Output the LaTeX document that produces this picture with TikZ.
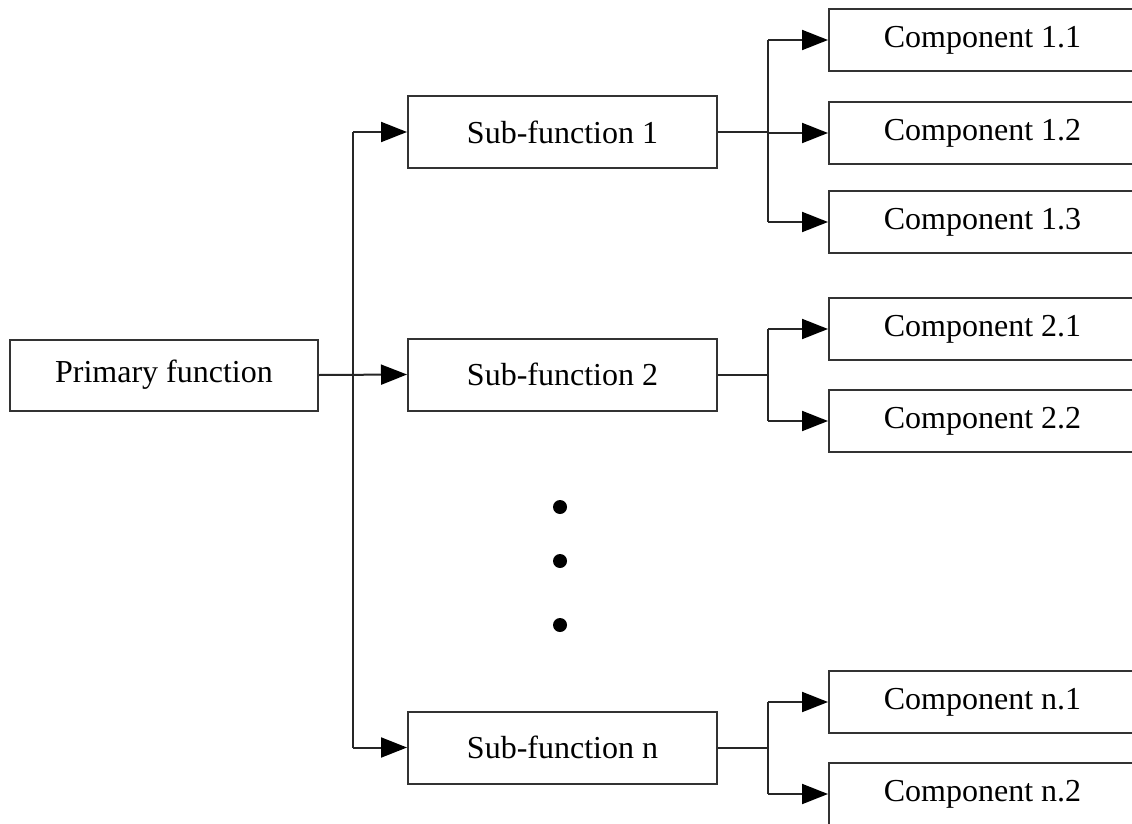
\documentclass[tikz,border=0pt]{standalone}
\usepackage{fontspec}
\setmainfont{Liberation Serif}
\usetikzlibrary{arrows.meta}
\begin{document}
\begin{tikzpicture}[x=1pt,y=-1pt,
  box/.style={draw=black!80, line width=2pt, inner sep=0pt, font=\fontsize{32}{38}\selectfont},
  subbox/.style={box, minimum width=309pt, minimum height=72pt},
  compbox/.style={box, minimum width=307pt, minimum height=62pt},
  conn/.style={draw=black!85, line width=2pt},
  arr/.style={conn, -{Triangle[length=26pt,width=20pt,color=black]}}
]
\useasboundingbox (0,0) rectangle (1132,824);
\clip (0,0) rectangle (1132,824);
\fill[white] (0,0) rectangle (1132,824);

\node[box, minimum width=308pt, minimum height=71pt] (P) at (164,375) {Primary function};
\node[subbox] (S1) at (562.5,132) {Sub-function 1};
\node[subbox] (S2) at (562.5,374.5) {Sub-function 2};
\node[subbox] (Sn) at (562.5,747.5) {Sub-function n};

\node[compbox] (C11) at (982.5,40) {Component 1.1};
\node[compbox] (C12) at (982.5,133) {Component 1.2};
\node[compbox] (C13) at (982.5,222) {Component 1.3};
\node[compbox] (C21) at (982.5,329) {Component 2.1};
\node[compbox] (C22) at (982.5,421) {Component 2.2};
\node[compbox] (Cn1) at (982.5,702) {Component n.1};
\node[compbox] (Cn2) at (982.5,794) {Component n.2};

\coordinate (T) at (353,0);
\coordinate (B) at (768,0);

% trunk
\draw[conn] (S1.west -| T) -- (Sn.west -| T);
\draw[arr] (P.east) -- (S2.west);
\draw[arr] (S1.west -| T) -- (S1.west);
\draw[arr] (Sn.west -| T) -- (Sn.west);

% branch 1
\draw[conn] (S1.east) -- (S1.east -| B);
\draw[conn] (C11.west -| B) -- (C13.west -| B);
\draw[arr] (C11.west -| B) -- (C11.west);
\draw[arr] (C12.west -| B) -- (C12.west);
\draw[arr] (C13.west -| B) -- (C13.west);

% branch 2
\draw[conn] (S2.east) -- (S2.east -| B);
\draw[conn] (C21.west -| B) -- (C22.west -| B);
\draw[arr] (C21.west -| B) -- (C21.west);
\draw[arr] (C22.west -| B) -- (C22.west);

% branch n
\draw[conn] (Sn.east) -- (Sn.east -| B);
\draw[conn] (Cn1.west -| B) -- (Cn2.west -| B);
\draw[arr] (Cn1.west -| B) -- (Cn1.west);
\draw[arr] (Cn2.west -| B) -- (Cn2.west);

% ellipsis dots
\fill (560,507) circle (7pt);
\fill (560,561) circle (7pt);
\fill (560,625) circle (7pt);
\end{tikzpicture}
\end{document}
